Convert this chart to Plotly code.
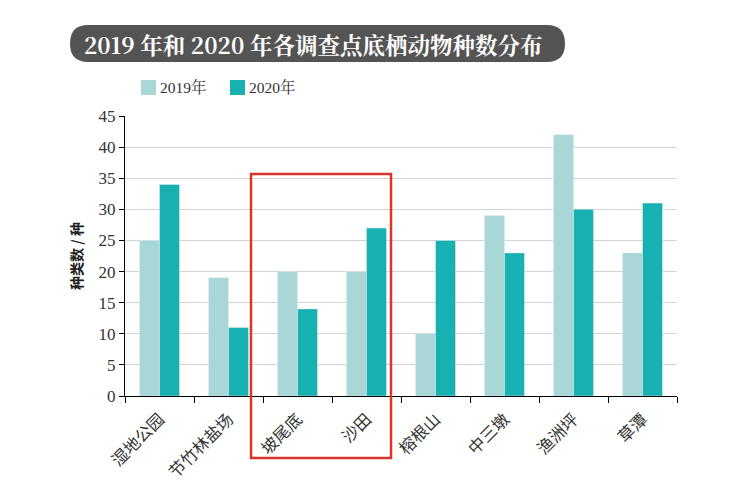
import plotly.graph_objects as go

categories = ["湿地公园", "节竹林盐场", "坡尾底", "沙田", "榕根山", "中三墩", "渔洲坪", "草潭"]
values_2019 = [25, 19, 20, 20, 10, 29, 42, 23]
values_2020 = [34, 11, 14, 27, 25, 23, 30, 31]
series_names = ["2019年", "2020年"]
series_colors = ["#a9d6d7", "#17b1b1"]
y_ticks = [0, 5, 10, 15, 20, 25, 30, 35, 40, 45]

OFF = 8  # page body margin
W, H = 740 - OFF, 487 - OFF
L, T = 125 - OFF, 116 - OFF
pw, ph = 552, 280
R, B = W - L - pw, H - T - ph

def px(x):
    return (x - OFF - L) / pw

def py(y):
    return (T + ph - (y - OFF)) / ph

fig = go.Figure()
for name, vals, col in zip(series_names, [values_2019, values_2020], series_colors):
    fig.add_trace(go.Bar(x=categories, y=vals, name=name, marker_color=col, showlegend=False))

# title pill
x0, x1, y0, y1 = px(70), px(565), py(62), py(25)
r_x = 18 / pw
path = (f"M {x0 + r_x},{y0} L {x1 - r_x},{y0} "
        f"Q {x1},{y0} {x1},{(y0 + y1) / 2} Q {x1},{y1} {x1 - r_x},{y1} "
        f"L {x0 + r_x},{y1} Q {x0},{y1} {x0},{(y0 + y1) / 2} Q {x0},{y0} {x0 + r_x},{y0} Z")
fig.add_shape(type="path", path=path, xref="paper", yref="paper",
              fillcolor="#545454", line=dict(width=0), layer="above")
fig.add_annotation(x=px(82), y=(y0 + y1) / 2, xref="paper", yref="paper",
                   text="<b>2019 年和 2020 年各调查点底栖动物种数分布</b>", showarrow=False,
                   font=dict(family="Noto Serif CJK SC, Liberation Serif, Noto Sans CJK SC", size=22.5, color="white"),
                   xanchor="left", yanchor="middle")

# legend (drawn as swatches + text)
legend_x = [141, 230]
for lx, name, col in zip(legend_x, series_names, series_colors):
    fig.add_shape(type="rect", xref="paper", yref="paper",
                  x0=px(lx), x1=px(lx + 15), y0=py(95), y1=py(80),
                  fillcolor=col, line=dict(width=0))
    fig.add_annotation(x=px(lx + 17), y=py(87.5), xref="paper", yref="paper", text=name,
                       showarrow=False, xanchor="left", yanchor="middle",
                       font=dict(family="Liberation Serif, Noto Serif CJK SC", size=15.5, color="#333"))

# red highlight box
fig.add_shape(type="rect", xref="paper", yref="paper",
              x0=px(251), x1=px(391), y0=py(458), y1=py(174),
              line=dict(color="#d9352a", width=2.5), layer="above")

fig.update_layout(
    width=W, height=H,
    margin=dict(l=L, r=R, t=T, b=B, autoexpand=False),
    paper_bgcolor="white", plot_bgcolor="white",
    barmode="group", bargap=0.42, bargroupgap=0,
    showlegend=False,
    font=dict(family="Noto Sans CJK SC", color="#222"),
)
fig.update_xaxes(
    automargin=False,
    showline=True, linecolor="black", linewidth=1.2,
    ticks="outside", tickson="boundaries", ticklen=6, tickcolor="black",
    tickangle=-45, tickfont=dict(family="Noto Sans CJK SC", size=16.5, color="#333"),
    ticklabelstandoff=6,
    showgrid=False,
)
fig.update_yaxes(
    automargin=False,
    range=[0, 45], tickvals=y_ticks,
    showline=True, linecolor="black", linewidth=1.2,
    ticks="outside", ticklen=5, tickcolor="black",
    showgrid=True, gridcolor="#d3d3d3", gridwidth=1,
    tickfont=dict(family="Liberation Serif", size=17, color="#333"),
    title=dict(text="<b>种类数 / 种</b>", font=dict(family="Noto Sans CJK SC", size=14, color="#222"), standoff=12),
    zeroline=False,
)

fig.write_html("out.html")
